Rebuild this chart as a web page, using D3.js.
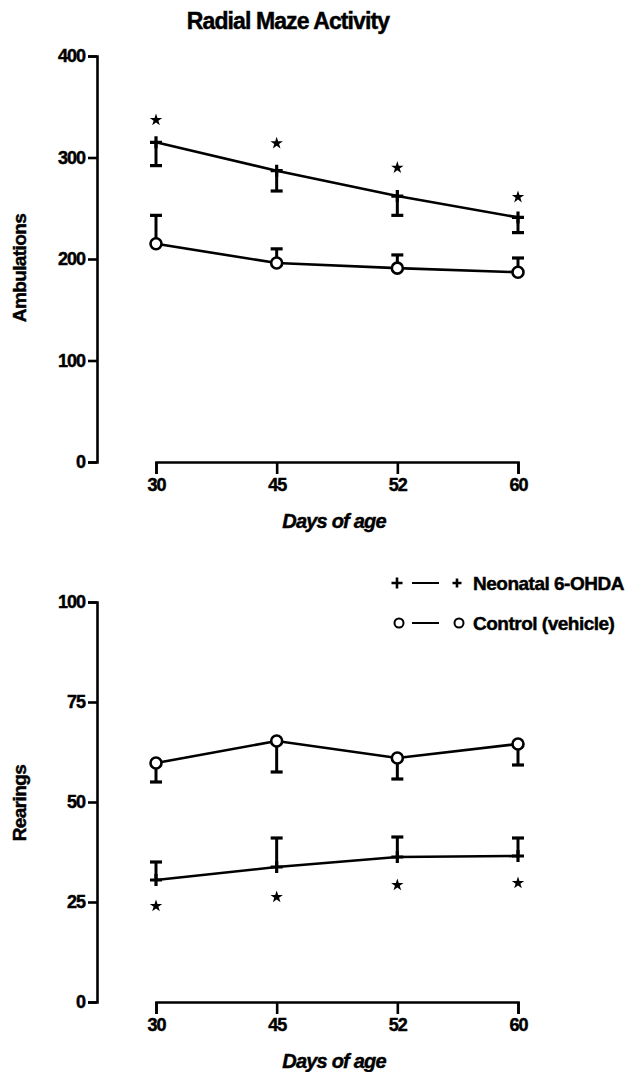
<!DOCTYPE html>
<html>
<head>
<meta charset="utf-8">
<script src="https://cdn.jsdelivr.net/npm/d3@7.9.0/dist/d3.min.js"></script>
<style>
  body { margin: 0; background: #fff; }
  svg { display: block; font-family: "Liberation Sans", Arial, sans-serif; font-weight: bold; }
  svg text { stroke: #000; stroke-width: 0.45; }
  .axis path, .axis line { stroke: #000; stroke-width: 2.6; }
  .axis text { font-size: 18px; font-weight: bold; fill: #000; letter-spacing: -1px; }
</style>
</head>
<body>
<svg id="chart" width="644" height="1072"></svg>
<script>
// days on the x axis
const days = ['30', '45', '52', '60'];

// top panel: ambulations
const ambTicks = [0, 100, 200, 300, 400];
const ambNeo = [315, 287, 262, 241];
const ambNeoErr = [292, 267, 243, 226];   // lower end of bar
const ambNeoStar = [337, 314, 290, 261];
const ambCtl = [215, 196, 191, 187];
const ambCtlErr = [243, 210, 204, 201];   // upper end of bar

// bottom panel: rearings
const rearTicks = [0, 25, 50, 75, 100];
const rearCtl = [59.75, 65.25, 61, 64.5];
const rearCtlErr = [55, 57.5, 55.75, 59.25];  // lower end
const rearNeo = [30.5, 33.75, 36.25, 36.5];
const rearNeoErr = [35, 41, 41.25, 41];       // upper end
const rearNeoStar = [24, 26.25, 29.25, 29.75];

const legendLabels = ['Neonatal 6-OHDA', 'Control (vehicle)'];

const svg = d3.select('#chart');

svg.append('text')
    .attr('x', 288).attr('y', 29)
    .attr('text-anchor', 'middle')
    .attr('font-size', 23)
    .attr('stroke-width', 1.1)
    .attr('letter-spacing', -0.9)
    .text('Radial Maze Activity');

const x = d3.scalePoint().domain(days).range([156, 518]);

function plusPath(s) {
    return `M${-s},0H${s}M0,${-s}V${s}`;
}

function panel(opt) {
    const y = d3.scaleLinear().domain(opt.domain).range(opt.range);
    const g = svg.append('g');

    // y axis
    g.append('g')
        .attr('class', 'axis')
        .attr('transform', 'translate(97,0)')
        .call(d3.axisLeft(y).tickValues(opt.ticks).tickSize(9).tickPadding(3));

    // x axis, detached from the y axis
    const y0 = y(0);
    g.append('g')
        .attr('class', 'axis')
        .attr('transform', `translate(0,${y0})`)
        .call(d3.axisBottom(x).tickSize(12).tickPadding(4));

    g.append('text')
        .attr('x', 334).attr('y', y0 + 66)
        .attr('text-anchor', 'middle')
        .attr('font-size', 20)
        .attr('font-style', 'italic')
        .attr('letter-spacing', -0.8)
        .text('Days of age');

    g.append('text')
        .attr('transform', `translate(26,${opt.labelY}) rotate(-90)`)
        .attr('text-anchor', 'middle')
        .attr('font-size', 19)
        .attr('letter-spacing', -0.6)
        .text(opt.ylabel);

    const line = d3.line().x((d, i) => x(days[i])).y(d => y(d));

    opt.series.forEach(s => {
        g.append('path')
            .attr('d', line(s.values))
            .attr('fill', 'none')
            .attr('stroke', '#000')
            .attr('stroke-width', 2.6);

        // error bars
        s.values.forEach((v, i) => {
            const cx = x(days[i]);
            g.append('line')
                .attr('x1', cx).attr('x2', cx)
                .attr('y1', y(v)).attr('y2', y(s.err[i]))
                .attr('stroke', '#000').attr('stroke-width', 3);
            g.append('line')
                .attr('x1', cx - 6).attr('x2', cx + 6)
                .attr('y1', y(s.err[i])).attr('y2', y(s.err[i]))
                .attr('stroke', '#000').attr('stroke-width', 3.2);
        });

        // markers
        s.values.forEach((v, i) => {
            const cx = x(days[i]);
            if (s.marker === 'plus') {
                g.append('path')
                    .attr('transform', `translate(${cx},${y(v)})`)
                    .attr('d', plusPath(6))
                    .attr('stroke', '#000').attr('stroke-width', 3.2);
            } else {
                g.append('circle')
                    .attr('cx', cx).attr('cy', y(v)).attr('r', 5.5)
                    .attr('fill', '#fff')
                    .attr('stroke', '#000').attr('stroke-width', 2.6);
            }
        });

        if (s.stars) {
            s.stars.forEach((v, i) => {
                g.append('path')
                    .attr('transform', `translate(${x(days[i])},${y(v)})`)
                    .attr('d', d3.symbol(d3.symbolStar, 48)())
                    .attr('fill', '#000');
            });
        }
    });
}

panel({
    domain: [0, 400], range: [462, 56], ticks: ambTicks,
    ylabel: 'Ambulations', labelY: 268,
    series: [
        { values: ambNeo, err: ambNeoErr, stars: ambNeoStar, marker: 'plus' },
        { values: ambCtl, err: ambCtlErr, marker: 'circle' }
    ]
});

panel({
    domain: [0, 100], range: [1002, 602], ticks: rearTicks,
    ylabel: 'Rearings', labelY: 803,
    series: [
        { values: rearCtl, err: rearCtlErr, marker: 'circle' },
        { values: rearNeo, err: rearNeoErr, stars: rearNeoStar, marker: 'plus' }
    ]
});

// legend
const leg = svg.append('g').attr('transform', 'translate(397,583)');
legendLabels.forEach((lab, i) => {
    const row = leg.append('g').attr('transform', `translate(0,${i * 40})`);
    row.append('line')
        .attr('x1', 15).attr('x2', 42).attr('y1', 0).attr('y2', 0)
        .attr('stroke', '#000').attr('stroke-width', 2);
    [0, 60].forEach(dx => {
        if (i === 0) {
            row.append('path')
                .attr('transform', `translate(${dx},0)`)
                .attr('d', plusPath(dx === 0 ? 5.5 : 4.5))
                .attr('stroke', '#000').attr('stroke-width', 2.6);
        } else {
            row.append('circle')
                .attr('cx', dx + 2).attr('r', 4.5)
                .attr('fill', '#fff')
                .attr('stroke', '#000').attr('stroke-width', 2);
        }
    });
    row.append('text')
        .attr('x', 76).attr('y', 7)
        .attr('font-size', 19)
        .attr('letter-spacing', -0.5)
        .text(lab);
});
</script>
</body>
</html>
